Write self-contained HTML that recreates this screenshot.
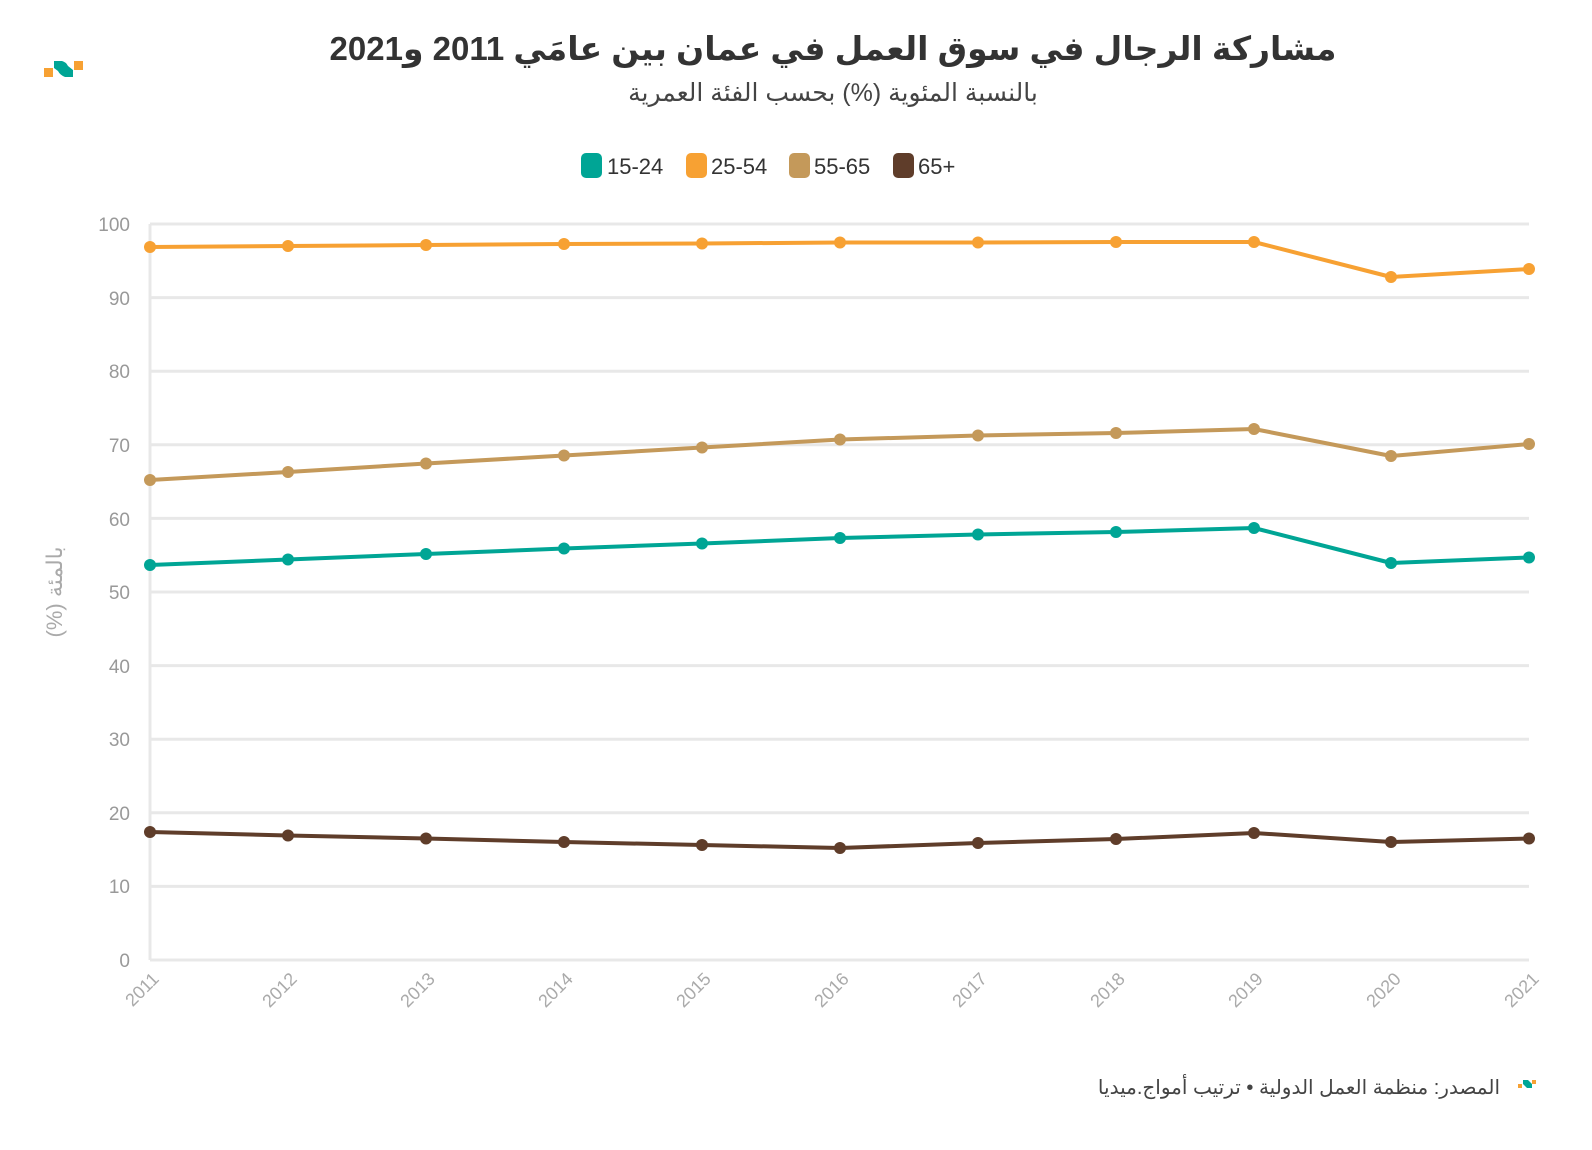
<!DOCTYPE html>
<html><head><meta charset="utf-8"><style>
html,body{margin:0;background:#fff;width:1592px;height:1150px;overflow:hidden;font-family:"Liberation Sans","Noto Sans CJK SC",sans-serif}
svg{display:block;overflow:hidden}
</style></head><body>
<svg width="1592" height="1150" xmlns="http://www.w3.org/2000/svg" font-family="Liberation Sans, DejaVu Sans, sans-serif">
<rect x="44" y="68" width="9" height="9" fill="#f7a133"/>
<path d="M54 61 L62 61 Q66 62 68 66 L73 70 L73 77 L65 77 Q60 75 58 71 L54 68Z" fill="#00a595"/>
<rect x="74" y="61" width="9" height="9" fill="#f7a133"/>
<text x="833" y="60" text-anchor="middle" font-size="33" font-weight="bold" fill="#333" direction="rtl">مشاركة الرجال في سوق العمل في عمان بين عامَي 2011 و2021</text>
<text x="833" y="101" text-anchor="middle" font-size="25" fill="#444" direction="rtl">بالنسبة المئوية (%) بحسب الفئة العمرية</text>
<g font-size="22" fill="#333">
<rect x="581" y="153" width="21" height="25" rx="5" fill="#00a595"/><text x="607" y="174">15-24</text>
<rect x="686" y="153" width="21" height="25" rx="5" fill="#f7a133"/><text x="711" y="174">25-54</text>
<rect x="789" y="153" width="21" height="25" rx="5" fill="#c4995a"/><text x="814" y="174">55-65</text>
<rect x="893" y="153" width="21" height="25" rx="5" fill="#5f3d2a"/><text x="918" y="174">65+</text>
</g>
<g stroke="#e8e8e8" stroke-width="3">
<line x1="150" x2="1529" y1="224" y2="224"/><line x1="150" x2="1529" y1="297.6" y2="297.6"/><line x1="150" x2="1529" y1="371.2" y2="371.2"/><line x1="150" x2="1529" y1="444.8" y2="444.8"/><line x1="150" x2="1529" y1="518.4" y2="518.4"/><line x1="150" x2="1529" y1="592" y2="592"/><line x1="150" x2="1529" y1="665.6" y2="665.6"/><line x1="150" x2="1529" y1="739.2" y2="739.2"/><line x1="150" x2="1529" y1="812.8" y2="812.8"/><line x1="150" x2="1529" y1="886.4" y2="886.4"/><line x1="150" x2="1529" y1="960" y2="960"/>
<line x1="150" x2="150" y1="224" y2="960"/>
</g>
<g font-size="19" fill="#999" text-anchor="end">
<text x="130" y="231">100</text><text x="130" y="305">90</text><text x="130" y="378">80</text><text x="130" y="452">70</text><text x="130" y="526">60</text><text x="130" y="599">50</text><text x="130" y="673">40</text><text x="130" y="746">30</text><text x="130" y="820">20</text><text x="130" y="893">10</text><text x="130" y="967">0</text>
</g>
<text transform="translate(62,592) rotate(-90)" text-anchor="middle" font-size="22" fill="#aaa" direction="rtl">بالمئة (%)</text>
<g font-size="18" fill="#aaa" text-anchor="end">
<text transform="translate(160,980) rotate(-45)">2011</text><text transform="translate(298,980) rotate(-45)">2012</text><text transform="translate(436,980) rotate(-45)">2013</text><text transform="translate(574,980) rotate(-45)">2014</text><text transform="translate(712,980) rotate(-45)">2015</text><text transform="translate(850,980) rotate(-45)">2016</text><text transform="translate(988,980) rotate(-45)">2017</text><text transform="translate(1126,980) rotate(-45)">2018</text><text transform="translate(1264,980) rotate(-45)">2019</text><text transform="translate(1402,980) rotate(-45)">2020</text><text transform="translate(1540,980) rotate(-45)">2021</text>
</g>
<g fill="none" stroke-width="4" stroke-linejoin="round">
<polyline stroke="#f7a133" points="150,247 288,246 426,245 564,244 702,243.5 840,242.5 978,242.5 1116,242 1254,242 1391,277 1529,269"/>
<polyline stroke="#c4995a" points="150,480 288,472 426,463.5 564,455.5 702,447.5 840,439.5 978,435.5 1116,433 1254,429 1391,456 1529,444"/>
<polyline stroke="#00a595" points="150,565 288,559.5 426,554 564,548.5 702,543.5 840,538 978,534.5 1116,532 1254,528 1391,563 1529,557.5"/>
<polyline stroke="#5f3d2a" points="150,832 288,835.5 426,838.5 564,842 702,845 840,848 978,843 1116,839 1254,833 1391,842 1529,838.5"/>
</g>
<g fill="#f7a133"><circle cx="150" cy="247" r="6"/><circle cx="288" cy="246" r="6"/><circle cx="426" cy="245" r="6"/><circle cx="564" cy="244" r="6"/><circle cx="702" cy="243.5" r="6"/><circle cx="840" cy="242.5" r="6"/><circle cx="978" cy="242.5" r="6"/><circle cx="1116" cy="242" r="6"/><circle cx="1254" cy="242" r="6"/><circle cx="1391" cy="277" r="6"/><circle cx="1529" cy="269" r="6"/></g>
<g fill="#c4995a"><circle cx="150" cy="480" r="6"/><circle cx="288" cy="472" r="6"/><circle cx="426" cy="463.5" r="6"/><circle cx="564" cy="455.5" r="6"/><circle cx="702" cy="447.5" r="6"/><circle cx="840" cy="439.5" r="6"/><circle cx="978" cy="435.5" r="6"/><circle cx="1116" cy="433" r="6"/><circle cx="1254" cy="429" r="6"/><circle cx="1391" cy="456" r="6"/><circle cx="1529" cy="444" r="6"/></g>
<g fill="#00a595"><circle cx="150" cy="565" r="6"/><circle cx="288" cy="559.5" r="6"/><circle cx="426" cy="554" r="6"/><circle cx="564" cy="548.5" r="6"/><circle cx="702" cy="543.5" r="6"/><circle cx="840" cy="538" r="6"/><circle cx="978" cy="534.5" r="6"/><circle cx="1116" cy="532" r="6"/><circle cx="1254" cy="528" r="6"/><circle cx="1391" cy="563" r="6"/><circle cx="1529" cy="557.5" r="6"/></g>
<g fill="#5f3d2a"><circle cx="150" cy="832" r="6"/><circle cx="288" cy="835.5" r="6"/><circle cx="426" cy="838.5" r="6"/><circle cx="564" cy="842" r="6"/><circle cx="702" cy="845" r="6"/><circle cx="840" cy="848" r="6"/><circle cx="978" cy="843" r="6"/><circle cx="1116" cy="839" r="6"/><circle cx="1254" cy="833" r="6"/><circle cx="1391" cy="842" r="6"/><circle cx="1529" cy="838.5" r="6"/></g>
<text x="1500" y="1094" text-anchor="start" font-size="20" fill="#444" direction="rtl">المصدر: منظمة العمل الدولية • ترتيب أمواج.ميديا</text>
<rect x="1518" y="1084" width="4" height="4" fill="#f7a133"/>
<path d="M1523 1080 L1528 1080 L1532 1084 L1532 1088 L1527 1088 L1523 1084Z" fill="#00a595"/>
<rect x="1532" y="1080" width="4" height="4" fill="#f7a133"/>
</svg>
</body></html>
